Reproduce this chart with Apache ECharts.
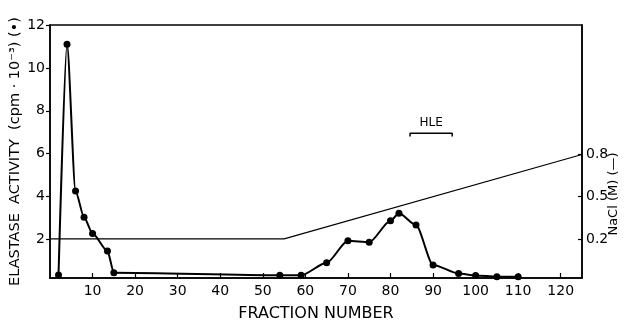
<!DOCTYPE html>
<html><head><meta charset="utf-8">
<script src="https://cdn.jsdelivr.net/npm/echarts@6/dist/echarts.min.js"></script>
<style>html,body{margin:0;padding:0;background:#fff}#c{width:627px;height:322px}</style>
</head><body><div id="c"></div>
<script>
// Elastase activity (cpm x 10^-3), left axis
const elastaseFractions = [2, 4, 6, 8, 10, 13.5, 15, 54, 59, 65, 70, 75, 80, 82, 86, 90, 96, 100, 105, 110];
const elastaseValues    = [0.34, 11.1, 4.26, 3.03, 2.28, 1.46, 0.45, 0.33, 0.33, 0.91, 1.94, 1.87, 2.87, 3.22, 2.67, 0.81, 0.41, 0.32, 0.26, 0.26];
// NaCl gradient (M), right axis
const naclFractions = [0, 55, 125];
const naclValues    = [0.2, 0.2, 0.8];
// HLE bracket
const hleRange = [84.6, 94.5];
const hleLevel = 6.95;
const hleTick = 6.8;
// tick labels
const xTicks = [10, 20, 30, 40, 50, 60, 70, 80, 90, 100, 110, 120];
const yLeftTicks = [2, 4, 6, 8, 10, 12];
const yRightTicks = [0.2, 0.5, 0.8];

const FONT = 'DejaVu Sans';
const chart = echarts.init(document.getElementById('c'));
chart.setOption({
  animation: false,
  backgroundColor: '#fff',
  grid: { left: 50, right: 45, top: 25, bottom: 44, containLabel: false, outerBoundsMode: 'none',
    show: true, borderColor: '#000', borderWidth: 1.5 },
  xAxis: {
    type: 'value', min: 0, max: 125,
    axisLine: { onZero: false, lineStyle: { color: '#000', width: 1.5 } },
    axisTick: { inside: true, length: 5, customValues: xTicks, lineStyle: { color: '#000', width: 1.2 } },
    axisLabel: { customValues: xTicks, color: '#000', fontSize: 14, fontFamily: FONT, margin: 6 },
    splitLine: { show: false },
    name: 'FRACTION NUMBER', nameLocation: 'middle', nameGap: 28, nameMoveOverlap: false,
    nameTextStyle: { color: '#000', fontSize: 16, fontFamily: FONT }
  },
  yAxis: [{
    type: 'value', min: 0.2, max: 12, position: 'left',
    axisLine: { show: true, onZero: false, lineStyle: { color: '#000', width: 1.5 } },
    axisTick: { show: true, length: 4, customValues: yLeftTicks, lineStyle: { color: '#000', width: 1.2 } },
    axisLabel: { customValues: yLeftTicks, color: '#000', fontSize: 14, fontFamily: FONT, margin: 5 },
    splitLine: { show: false },
    name: 'ELASTASE  ACTIVITY  (cpm · 10⁻³) (•)', nameLocation: 'middle', nameGap: 27, nameMoveOverlap: false,
    nameTextStyle: { color: '#000', fontSize: 14.5, fontFamily: FONT }
  }, {
    type: 'value', min: -0.078, max: 1.72, position: 'right',
    axisLine: { show: true, onZero: false, lineStyle: { color: '#000', width: 1.5 } },
    axisTick: { show: true, inside: true, length: 4, customValues: yRightTicks, lineStyle: { color: '#000', width: 1.2 } },
    axisLabel: { customValues: yRightTicks, color: '#000', fontSize: 14, fontFamily: FONT, margin: 4,
      formatter: v => v.toFixed(1) },
    splitLine: { show: false }
  }],
  graphic: [{
    type: 'text', x: 614, y: 194, rotation: Math.PI / 2,
    style: { text: 'NaCl (M) (—)', fill: '#000', font: '13px "DejaVu Sans"', align: 'center', verticalAlign: 'middle' }
  }],
  series: [{
    type: 'line', yAxisIndex: 1,
    data: naclFractions.map((f, i) => [f, naclValues[i]]),
    symbol: 'none', lineStyle: { color: '#000', width: 1.2 }, z: 2
  }, {
    type: 'line', yAxisIndex: 0,
    data: elastaseFractions.map((f, i) => [f, elastaseValues[i]]),
    smooth: 0.25, smoothMonotone: 'x',
    symbol: 'circle', symbolSize: 7,
    itemStyle: { color: '#000' },
    lineStyle: { color: '#000', width: 2 }, z: 3
  }, {
    type: 'line', yAxisIndex: 0,
    data: [[hleRange[0], hleTick], [hleRange[0], hleLevel], [hleRange[1], hleLevel], [hleRange[1], hleTick]],
    symbol: 'none', lineStyle: { color: '#000', width: 1.5 },
    markPoint: {
      symbol: 'circle', symbolSize: 0,
      data: [{ coord: [(hleRange[0] + hleRange[1]) / 2, hleLevel], label: {
        show: true, formatter: 'HLE', position: 'top', distance: 4,
        color: '#000', fontSize: 12, fontFamily: FONT } }]
    }
  }]
});
</script></body></html>
